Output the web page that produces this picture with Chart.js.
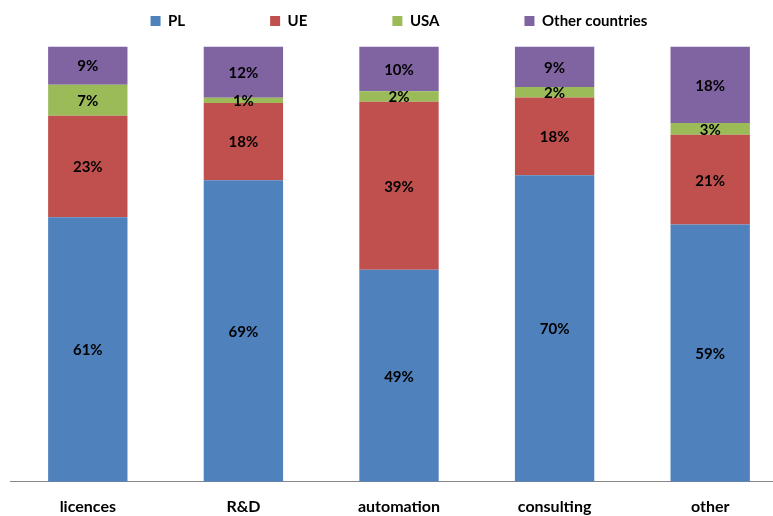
<!DOCTYPE html>
<html>
<head>
<meta charset="utf-8">
<script src="https://cdn.jsdelivr.net/npm/chart.js@4/dist/chart.umd.min.js"></script>
<style>
  html, body { margin: 0; padding: 0; background: #ffffff; overflow: hidden; }
  #wrap { width: 773px; height: 516px; overflow: hidden; }
  canvas { display: block; }
</style>
</head>
<body>
<div id="wrap"><canvas id="c" width="790" height="516"></canvas></div>
<script>
const categories = ['licences', 'R&D', 'automation', 'consulting', 'other'];
const seriesNames = ['PL', 'UE', 'USA', 'Other countries'];
const plValues = [60.8, 69.3, 48.7, 70.4, 59.1];
const ueValues = [23.3, 17.7, 38.6, 17.9, 20.6];
const usaValues = [7.1, 1.2, 2.4, 2.4, 2.7];
const otherValues = [8.8, 11.8, 10.3, 9.3, 17.6];
const colors = ['#4F81BD', '#C0504D', '#9BBB59', '#8064A2'];

const FONT = 'Lato, "Open Sans", sans-serif';
const LEGEND_PAD = 85;
const LEGEND_HEIGHT = 46.5;
const LEGEND_CENTER_Y = 21;
const LEGEND_FONT = 15;

const legendFix = {
  id: 'legendFix',
  afterInit(chart) {
    const lg = chart.legend;
    if (!lg) return;
    const origFit = lg.fit;
    lg.fit = function () {
      origFit.call(this);
      this.height = LEGEND_HEIGHT;
    };
    const origDraw = lg._draw;
    if (origDraw) {
      lg._draw = function () {
        const ctx = this.ctx;
        ctx.save();
        ctx.translate(0, LEGEND_CENTER_Y - (this.top + LEGEND_PAD + LEGEND_FONT / 2));
        origDraw.call(this);
        ctx.restore();
      };
    }
  }
};

const valueLabels = {
  id: 'valueLabels',
  afterDatasetsDraw(chart) {
    const ctx = chart.ctx;
    ctx.save();
    ctx.font = 'bold 15px ' + FONT;
    ctx.fillStyle = '#000000';
    ctx.textAlign = 'center';
    ctx.textBaseline = 'middle';
    chart.data.datasets.forEach((ds, di) => {
      const meta = chart.getDatasetMeta(di);
      meta.data.forEach((el, i) => {
        const p = el.getProps(['x', 'y', 'base'], true);
        const v = ds.data[i];
        ctx.fillText(Math.round(v) + '%', p.x, (p.y + p.base) / 2 + 1);
      });
    });
    ctx.restore();
  }
};

const datasetValues = [plValues, ueValues, usaValues, otherValues];

new Chart(document.getElementById('c'), {
  type: 'bar',
  data: {
    labels: categories,
    datasets: seriesNames.map((name, k) => ({
      label: name,
      data: datasetValues[k],
      backgroundColor: colors[k],
      borderWidth: 0,
      barPercentage: 0.51,
      categoryPercentage: 1.0
    }))
  },
  options: {
    responsive: false,
    animation: false,
    devicePixelRatio: 1,
    layout: { padding: { left: 10, right: 2, top: 0, bottom: -15 } },
    plugins: {
      legend: {
        position: 'top',
        labels: {
          boxWidth: 10,
          boxHeight: 10,
          padding: LEGEND_PAD,
          color: '#000000',
          font: { family: FONT, size: LEGEND_FONT, weight: 'bold' }
        }
      },
      tooltip: { enabled: false }
    },
    scales: {
      x: {
        stacked: true,
        grid: { display: false, drawTicks: false },
        border: { display: true, color: '#868686', width: 1 },
        ticks: {
          color: '#000000',
          padding: 15,
          font: { family: FONT, size: 16, weight: 'bold' }
        }
      },
      y: {
        stacked: true,
        display: false,
        min: 0,
        max: 100
      }
    }
  },
  plugins: [legendFix, valueLabels]
});
</script>
</body>
</html>
